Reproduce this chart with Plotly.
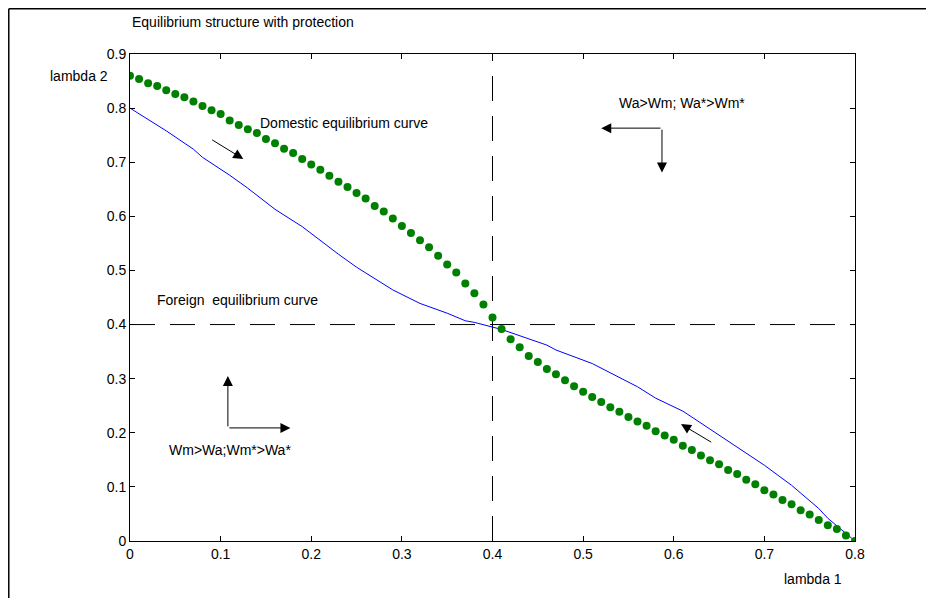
import plotly.graph_objs as go

# domestic equilibrium curve (dots), lambda 1 step 0.01
dom_x = [i / 100 for i in range(81)]
dom_y = [
    0.860, 0.854, 0.846, 0.841, 0.833, 0.826, 0.820, 0.812, 0.804, 0.796,
    0.789, 0.777, 0.769, 0.761, 0.754, 0.743, 0.735, 0.725, 0.717, 0.706,
    0.696, 0.686, 0.675, 0.664, 0.654, 0.643, 0.633, 0.619, 0.609, 0.596,
    0.582, 0.569, 0.556, 0.543, 0.527, 0.511, 0.496, 0.476, 0.458, 0.437,
    0.413, 0.392, 0.373, 0.358, 0.342, 0.331, 0.318, 0.308, 0.297, 0.286,
    0.276, 0.266, 0.257, 0.247, 0.239, 0.229, 0.221, 0.213, 0.203, 0.195,
    0.187, 0.176, 0.168, 0.158, 0.149, 0.142, 0.131, 0.124, 0.113, 0.105,
    0.094, 0.086, 0.076, 0.068, 0.057, 0.049, 0.039, 0.029, 0.022, 0.010,
    0.000,
]

# foreign equilibrium curve (thin line)
for_x = [0, 0.04, 0.07, 0.08, 0.11, 0.13, 0.16, 0.19, 0.23, 0.25, 0.29, 0.32,
         0.35, 0.37, 0.38, 0.41, 0.46, 0.47, 0.51, 0.56, 0.58, 0.61, 0.62,
         0.65, 0.70, 0.73, 0.76, 0.77, 0.79, 0.80]
for_y = [0.800, 0.758, 0.724, 0.709, 0.676, 0.652, 0.613, 0.581, 0.530, 0.506,
         0.464, 0.439, 0.421, 0.407, 0.404, 0.391, 0.362, 0.353, 0.328, 0.285,
         0.264, 0.240, 0.229, 0.196, 0.140, 0.103, 0.060, 0.042, 0.014, 0.0]

eq_point = 0.4
x_ticks = [0, 0.1, 0.2, 0.3, 0.4, 0.5, 0.6, 0.7, 0.8]
y_ticks = [0, 0.1, 0.2, 0.3, 0.4, 0.5, 0.6, 0.7, 0.8, 0.9]

# arrows: (tail_x, tail_y, tip_x, tip_y)
arrows = [
    (0.089, 0.743, 0.125, 0.706),
    (0.643, 0.181, 0.608, 0.216),
    (0.587, 0.763, 0.520, 0.763),
    (0.587, 0.763, 0.587, 0.681),
    (0.108, 0.209, 0.108, 0.305),
    (0.108, 0.209, 0.177, 0.209),
]

FONT = "Liberation Sans, Arial, sans-serif"

fig = go.Figure()
fig.add_trace(go.Scatter(x=[eq_point, eq_point], y=[0, 0.9], mode="lines",
                         line=dict(color="black", width=1, dash="25px,15px"),
                         showlegend=False, hoverinfo="skip"))
fig.add_trace(go.Scatter(x=[0, 0.8], y=[eq_point, eq_point], mode="lines",
                         line=dict(color="black", width=1, dash="25px,15px"),
                         showlegend=False, hoverinfo="skip"))
fig.add_trace(go.Scatter(x=for_x, y=for_y, mode="lines",
                         line=dict(color="#0000ff", width=1),
                         name="Foreign", showlegend=False))
fig.add_trace(go.Scatter(x=dom_x, y=dom_y, mode="markers",
                         marker=dict(color="#008000", size=8),
                         name="Domestic", showlegend=False))

for tx, ty, hx, hy in arrows:
    fig.add_annotation(x=hx, y=hy, ax=tx, ay=ty, xref="x", yref="y",
                       axref="x", ayref="y", text="", showarrow=True,
                       arrowhead=2, arrowsize=2, arrowwidth=1,
                       arrowcolor="black", standoff=0)

labels = [
    ("Domestic equilibrium curve", 0.141, 0.772, "left"),
    ("Foreign  equilibrium curve", 0.028, 0.445, "left"),
    ("Wa>Wm; Wa*>Wm*", 0.537, 0.810, "left"),
    ("Wm>Wa;Wm*>Wa*", 0.041, 0.168, "left"),
]
for txt, x, y, anchor in labels:
    fig.add_annotation(x=x, y=y, xref="x", yref="y", text=txt,
                       showarrow=False, xanchor=anchor,
                       font=dict(family=FONT, size=14, color="black"))

fig.add_annotation(x=0, y=1.0, xref="paper", yref="paper",
                   text="Equilibrium structure with protection",
                   showarrow=False, xanchor="left", yanchor="bottom", yshift=22,
                   font=dict(family=FONT, size=14, color="black"))
fig.add_annotation(x=-0.028, y=0.86, xref="paper", yref="y", text="lambda 2",
                   showarrow=False, xanchor="right",
                   font=dict(family=FONT, size=14, color="black"))
fig.add_annotation(x=0.985, y=0, xref="paper", yref="paper", text="lambda 1",
                   showarrow=False, xanchor="right", yanchor="top", yshift=-28,
                   font=dict(family=FONT, size=14, color="black"))

# outer figure frame (top and left edges visible)
fig.add_shape(type="line", xref="paper", yref="paper",
              x0=-0.1672, x1=1.2, y0=1.0929, y1=1.0929,
              line=dict(color="black", width=1.5))
fig.add_shape(type="line", xref="paper", yref="paper",
              x0=-0.1672, x1=-0.1672, y0=1.0929, y1=-0.2,
              line=dict(color="black", width=1.5))

axis_common = dict(showline=True, linecolor="black", linewidth=1, mirror="ticks",
                   ticks="inside", ticklen=5, tickcolor="black", showgrid=False,
                   zeroline=False, tickfont=dict(family=FONT, size=14, color="black"))
fig.update_xaxes(range=[0, 0.8], tickvals=x_ticks,
                 ticktext=[f"{v:g}" for v in x_ticks], **axis_common)
fig.update_yaxes(range=[0, 0.9], tickvals=y_ticks,
                 ticktext=[f"{v:g}" for v in y_ticks], **axis_common)

fig.update_layout(
    width=918,
    height=590,
    margin=dict(l=122, r=71, t=46, b=57),
    paper_bgcolor="white",
    plot_bgcolor="white",
    showlegend=False,
)
fig.write_html("out.html")
